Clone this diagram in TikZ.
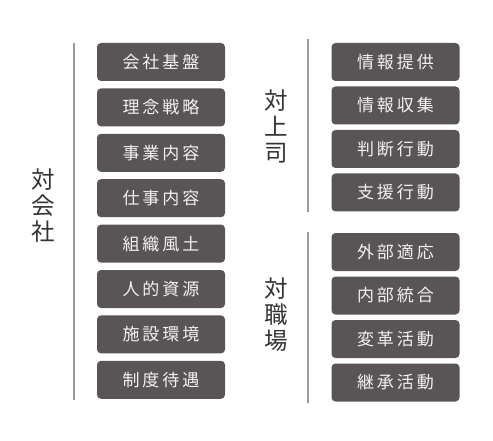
\documentclass[tikz,border=0pt]{standalone}
\usepackage{fontspec}
\newfontfamily\jp{Noto Sans CJK JP}
\definecolor{boxfill}{HTML}{595455}
\definecolor{boxtext}{HTML}{F2F2F2}
\definecolor{labeltext}{HTML}{333333}
\definecolor{rulegray}{HTML}{9A9A9A}
\def\spc#1{\spci#1\stopspc}
\def\spci#1#2\stopspc{#1\if\relax\detokenize{#2}\relax\else\kern3pt\spci#2\stopspc\fi}
\tikzset{
  item/.style={fill=boxfill, rounded corners=4pt, minimum width=128pt, minimum height=38pt,
    inner sep=0pt, text=boxtext, font=\jp\fontsize{17}{17}\selectfont},
  grouplabel/.style={text=labeltext, align=center, inner sep=0pt,
    font=\jp\fontsize{23.5}{26}\selectfont},
  divider/.style={draw=rulegray, line width=1.4pt}
}
\begin{document}
\begin{tikzpicture}[x=1pt,y=-1pt]
\useasboundingbox (0,0) rectangle (493,441);
% left column
\foreach \t [count=\i from 0] in {会社基盤,理念戦略,事業内容,仕事内容,組織風土,人的資源,施設環境,制度待遇}{
  \node[item] (L\i) at (161,{62+45.4*\i}) {\expandafter\spc\expandafter{\t}};
}
\coordinate (la) at (74,43);
\coordinate (lb) at (74,400);
\draw[divider] (la) -- (lb);
\node[grouplabel] (lab1) at (43,206) {対\\会\\社};
% right upper
\foreach \t [count=\i from 0] in {情報提供,情報収集,判断行動,支援行動}{
  \node[item] (R\i) at (395.5,{62+43.5*\i}) {\expandafter\spc\expandafter{\t}};
}
\foreach \t [count=\i from 0] in {外部適応,内部統合,変革活動,継承活動}{
  \node[item] (S\i) at (395.5,{252+43.5*\i}) {\expandafter\spc\expandafter{\t}};
}
\coordinate (ra) at (308,39);
\coordinate (rb) at (308,212);
\coordinate (rc) at (308,232);
\coordinate (rd) at (308,403);
\draw[divider] (ra) -- (rb);
\draw[divider] (rc) -- (rd);
\node[grouplabel] (lab2) at (276,126) {対\\上\\司};
\node[grouplabel] (lab3) at (276,315) {対\\職\\場};
\end{tikzpicture}
\end{document}
